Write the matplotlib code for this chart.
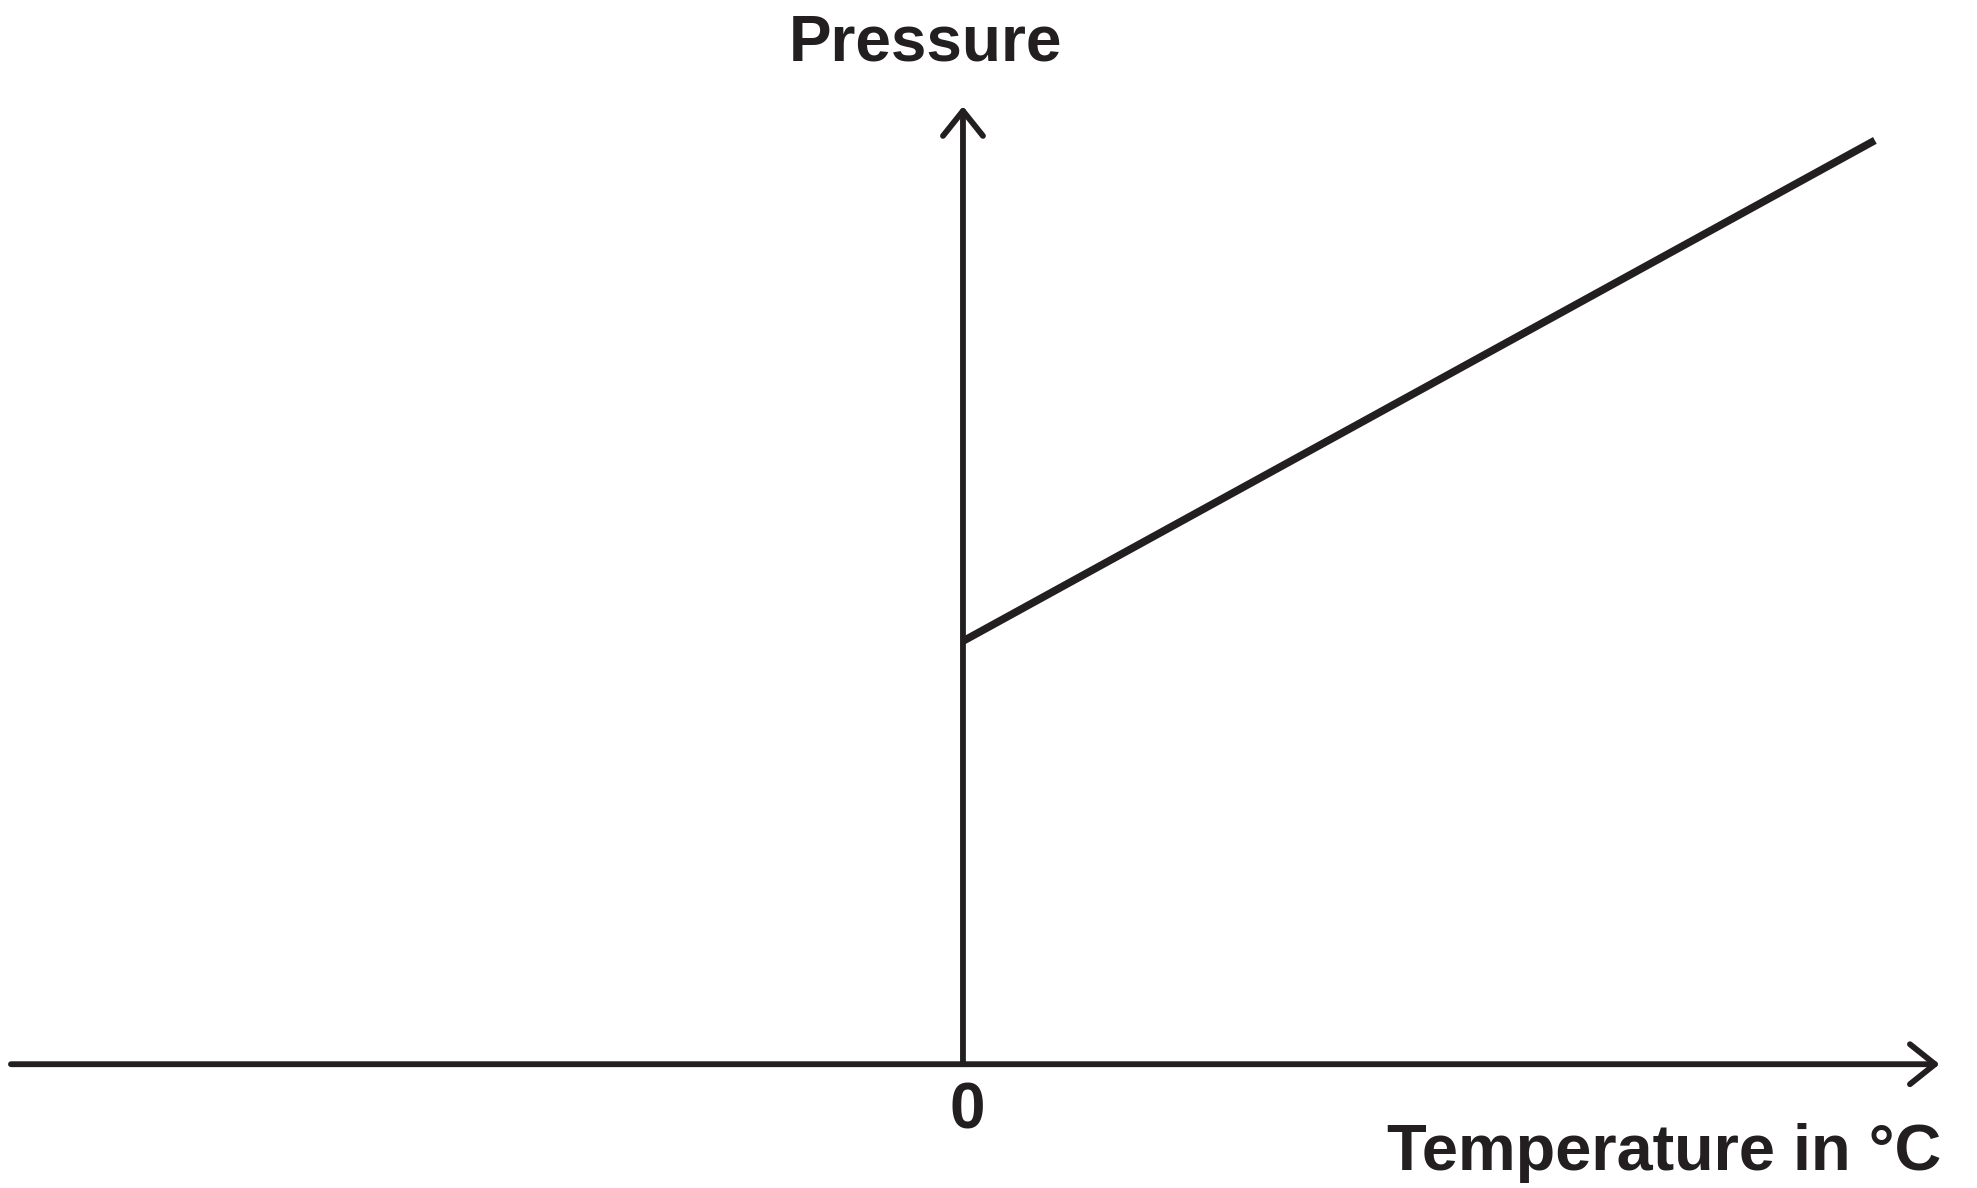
import matplotlib
matplotlib.use("Agg")
import matplotlib.pyplot as plt

# data (arbitrary units: temperature in °C, pressure)
temp = [0, 100]
pressure = [45.8, 100]
x_axis = [-104.4, 107.1]   # temperature axis extent
y_axis = [0, 103.7]        # pressure axis extent

ink = '#231f20'
plt.rcParams['font.family'] = ['Liberation Sans', 'DejaVu Sans']

fig = plt.figure(figsize=(19.77, 11.88), dpi=100)
ax = fig.add_axes([0, 0, 1, 1])
ax.set_xlim(-105.6, 111.2)
ax.set_ylim(-13.4, 115.2)
ax.axis('off')

arrow = dict(arrowstyle='->,head_length=0.9,head_width=0.72', lw=4.2,
             color=ink, mutation_scale=20, shrinkA=0, shrinkB=0)
ax.annotate('', xy=(x_axis[1], 0), xytext=(x_axis[0], 0), arrowprops=arrow)
ax.annotate('', xy=(0, y_axis[1]), xytext=(0, y_axis[0]), arrowprops=arrow)

ax.plot(temp, pressure, color=ink, lw=5.5, solid_capstyle='butt')

fig.text(0.468, 0.9487, 'Pressure', fontsize=46, fontweight='bold',
         color=ink, ha='center', va='baseline')
fig.text(0.489, 0.0497, '0', fontsize=46, fontweight='bold',
         color=ink, ha='center', va='baseline')
fig.text(0.9818, 0.0152, 'Temperature in °C', fontsize=46.7, fontweight='bold',
         color=ink, ha='right', va='baseline')

fig.savefig('out.png', dpi=100)
